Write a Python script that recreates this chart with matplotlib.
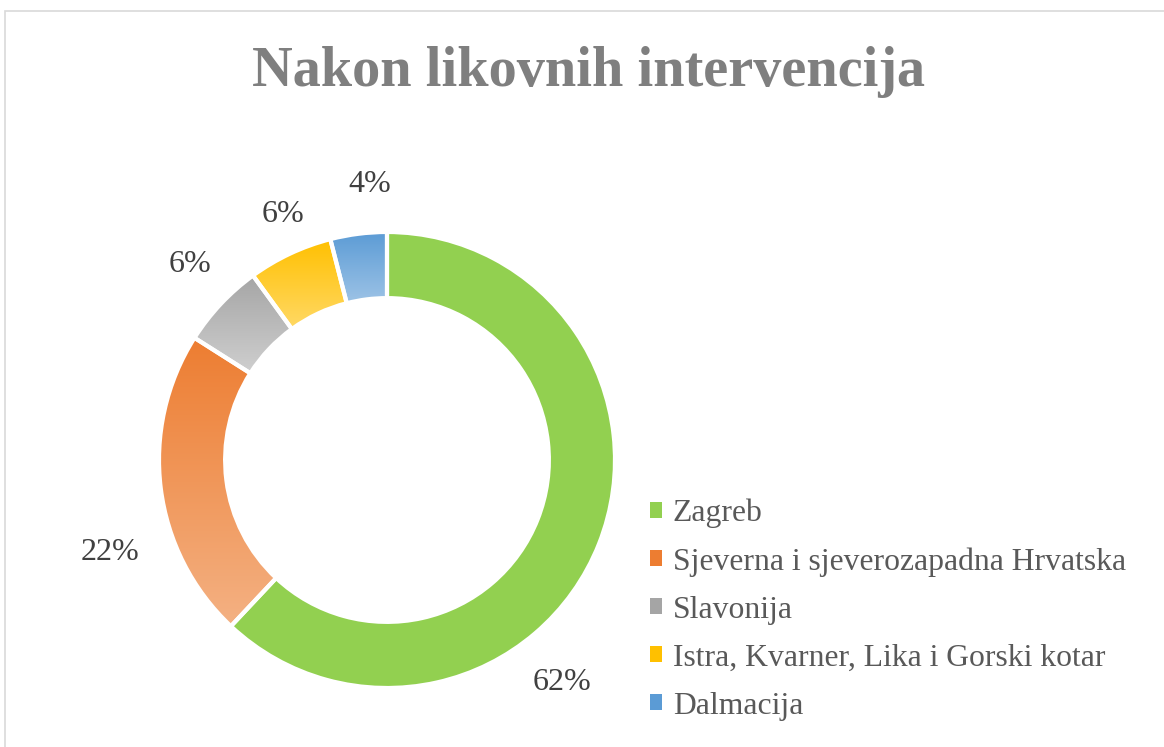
import numpy as np
import matplotlib
matplotlib.use('Agg')
import matplotlib.pyplot as plt
from matplotlib.patches import Patch, Rectangle
from matplotlib.colors import LinearSegmentedColormap

# Data: number of interventions per region (shares of the total)
regions = ['Zagreb', 'Sjeverna i sjeverozapadna Hrvatska', 'Slavonija',
           'Istra, Kvarner, Lika i Gorski kotar', 'Dalmacija']
counts = [31, 11, 3, 3, 2]
pct_labels = ['62%', '22%', '6%', '6%', '4%']

# gradient colours per wedge (top, bottom)
top_colors = ['#92D050', '#ED7D31', '#A5A5A5', '#FFC000', '#5B9BD5']
bottom_colors = ['#92D050', '#F4B183', '#CFCFCF', '#FFD966', '#9DC3E6']

plt.rcParams['font.family'] = ['Liberation Serif', 'DejaVu Serif']

W, H = 1164, 747
fig = plt.figure(figsize=(W / 100, H / 100), dpi=100)
ax = fig.add_axes([0, 0, 1, 1])

# frame line of the original chart area
fig.patches.append(Rectangle((5 / W, -0.1), 1.2, 1 - 11 / H + 0.1, transform=fig.transFigure,
                             fill=False, edgecolor='#D9D9D9', linewidth=1.2))

cx, cy, R = 387, H - 460, 228
width = 0.29 * R

wedges, _ = ax.pie(counts, startangle=90, counterclock=False, center=(cx, cy), radius=R,
                   colors=top_colors, wedgeprops=dict(width=width, linewidth=0))

# vertical gradient fill clipped to each wedge
for w, c1, c2 in zip(wedges, top_colors, bottom_colors):
    if c1 == c2:
        continue
    bb = w.get_path().get_extents()
    cmap = LinearSegmentedColormap.from_list('g', [c2, c1])
    grad = np.linspace(0, 1, 256).reshape(-1, 1)
    im = ax.imshow(grad, cmap=cmap, aspect='auto', origin='lower',
                   extent=[bb.x0, bb.x1, bb.y0, bb.y1], zorder=2, interpolation='bilinear')
    im.set_clip_path(w)

# white separators on top
ax.pie(counts, startangle=90, counterclock=False, center=(cx, cy), radius=R,
       wedgeprops=dict(width=width, facecolor='none', edgecolor='white', linewidth=3, zorder=3))

# percentage labels (placed as in the original chart)
label_pos = [(562, H - 683), (110, H - 552), (190, H - 265), (283, H - 215), (370, H - 185)]
for (x, y), t in zip(label_pos, pct_labels):
    ax.text(x, y, t, ha='center', va='center', fontsize=23, color='#404040', zorder=4)

ax.set_xlim(0, W)
ax.set_ylim(0, H)
ax.set_aspect('equal')
ax.axis('off')

fig.text(588 / W, 1 - 72 / H, 'Nakon likovnih intervencija', ha='center', va='center',
         fontsize=40.5, fontweight='bold', color='#7F7F7F')

handles = [Patch(facecolor=c1, edgecolor='none') for c1 in top_colors]
ax.legend(handles, regions, loc='upper left', bbox_to_anchor=(637 / W, 1 - 486 / H),
          frameon=False, fontsize=22.8, labelcolor='#595959', handlelength=0.4,
          handleheight=0.4, handletextpad=0.33, labelspacing=0.6, borderaxespad=0)

plt.savefig('out.png', dpi=100)
